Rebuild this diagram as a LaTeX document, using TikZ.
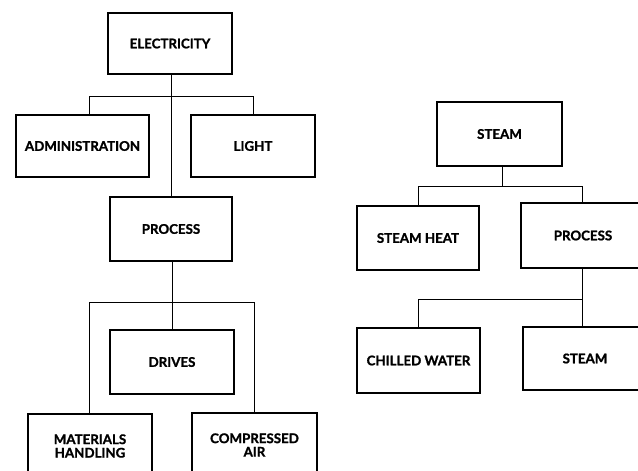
\documentclass[tikz,border=0pt]{standalone}
\usepackage{fontspec}
\setmainfont{Lato}[BoldFeatures={FakeBold=1.3}]
\begin{document}
\begin{tikzpicture}[x=1pt,y=-1pt,
  box/.style={draw,line width=2.6pt,font=\bfseries\fontsize{13.3}{13.5}\selectfont,align=center,inner sep=0pt},
  link/.style={line width=0.9pt}]
\clip (0,0) rectangle (638,471);
\fill[white] (0,0) rectangle (638,471);
% left tree
\node[box,minimum width=124pt,minimum height=61pt] (elec) at (170,43.5) {ELECTRICITY};
\node[box,minimum width=133pt,minimum height=62pt] (admin) at (82.5,146) {ADMINISTRATION};
\node[box,minimum width=124pt,minimum height=62pt] (light) at (253,146) {LIGHT};
\node[box,minimum width=122pt,minimum height=64pt] (proc) at (171,229) {PROCESS};
\node[box,minimum width=124pt,minimum height=64pt] (drives) at (172,362) {DRIVES};
\node[box,minimum width=124pt,minimum height=64pt] (mat) at (90,446) {MATERIALS\\HANDLING};
\node[box,minimum width=125pt,minimum height=64pt] (comp) at (254.5,445) {COMPRESSED\\AIR};
\coordinate (b1) at (171,96);
\coordinate (b2) at (172,302);
\draw[link] (elec.south -| b1) -- (proc.north -| b1);
\draw[link] (admin.north -| 89,0) -- (89,96) -- (253,96) -- (light.north -| 253,0);
\draw[link] (proc.south -| b2) -- (drives.north -| b2);
\draw[link] (mat.north -| 89,0) -- (89,302) -- (254,302) -- (comp.north -| 254,0);
% right tree
\node[box,minimum width=125pt,minimum height=64pt] (steam) at (499.5,134) {STEAM};
\node[box,minimum width=122pt,minimum height=64pt] (sheat) at (418,238) {STEAM HEAT};
\node[box,minimum width=124pt,minimum height=65pt] (rproc) at (583,235.5) {PROCESS};
\node[box,minimum width=123pt,minimum height=65pt] (chill) at (418.5,360.5) {CHILLED WATER};
\node[box,minimum width=124pt,minimum height=63pt] (rsteam) at (585,358.5) {STEAM};
\draw[link] (steam.south -| 502,0) -- (502,186);
\draw[link] (sheat.north -| 418,0) -- (418,186) -- (582,186) -- (rproc.north -| 582,0);
\draw[link] (rproc.south -| 582,0) -- (rsteam.north -| 582,0);
\draw[link] (chill.north -| 418,0) -- (418,299) -- (582,299);
\end{tikzpicture}
\end{document}
